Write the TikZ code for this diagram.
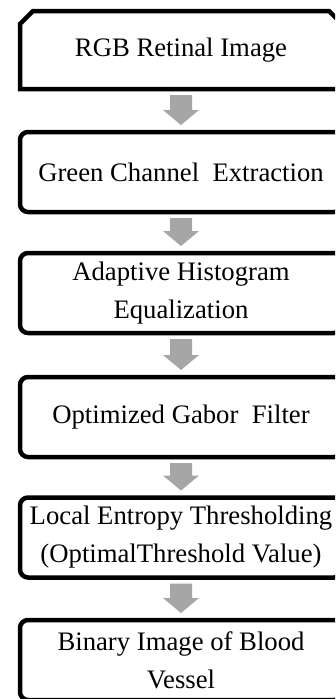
\documentclass[tikz,border=0pt]{standalone}
\usepackage{fontspec}
\setmainfont{Liberation Serif}
\usetikzlibrary{calc}
\tikzset{
  stepbox/.style={draw=black, line width=4.5pt, rounded corners=8pt, fill=white,
    minimum width=322pt, minimum height=80pt, inner sep=0pt, outer sep=0pt,
    align=center, font=\fontsize{26.7}{38}\selectfont},
  firstbox/.style={stepbox, draw=none, fill=none, rounded corners=0pt, minimum height=78pt},
  borderline/.style={draw=black, line width=4.5pt, line join=miter},
  arrowfill/.style={fill=black!35}
}
\newcommand\blockarrow[2]{%
  \fill[arrowfill] ($(#1.south)+(-11,6)$) -- ($(#1.south)+(11,6)$)
    -- ($(#2.north)+(11,-22)$) -- ($(#2.north)+(18,-22)$)
    -- ($(#2.north)+(0,-7)$) -- ($(#2.north)+(-18,-22)$)
    -- ($(#2.north)+(-11,-22)$) -- cycle;}
\begin{document}
\begin{tikzpicture}[x=1pt,y=-1pt]
\useasboundingbox (0,0) rectangle (335,699);
\clip (0,0) rectangle (335,699);
\node[firstbox] (b1) at (181,50) {RGB Retinal Image};
\draw[borderline] (b1.south west) -- ($(b1.north west)+(0,13)$)
  -- ($(b1.north west)+(13,0)$) -- ($(b1.north east)+(-13,0)$)
  -- ($(b1.north east)+(0,13)$) -- (b1.south east) -- cycle;
\node[stepbox] (b2) at (181,172) {Green Channel\ \ Extraction};
\node[stepbox] (b3) at (181,293) {Adaptive Histogram\\Equalization};
\node[stepbox] (b4) at (181,417) {Optimized Gabor\ \ Filter};
\node[stepbox] (b5) at (181,537.5) {Local Entropy Thresholding\\(OptimalThreshold Value)};
\node[stepbox] (b6) at (181,660) {Binary Image of Blood\\Vessel};
\blockarrow{b1}{b2}
\blockarrow{b2}{b3}
\blockarrow{b3}{b4}
\blockarrow{b4}{b5}
\blockarrow{b5}{b6}
\end{tikzpicture}
\end{document}
